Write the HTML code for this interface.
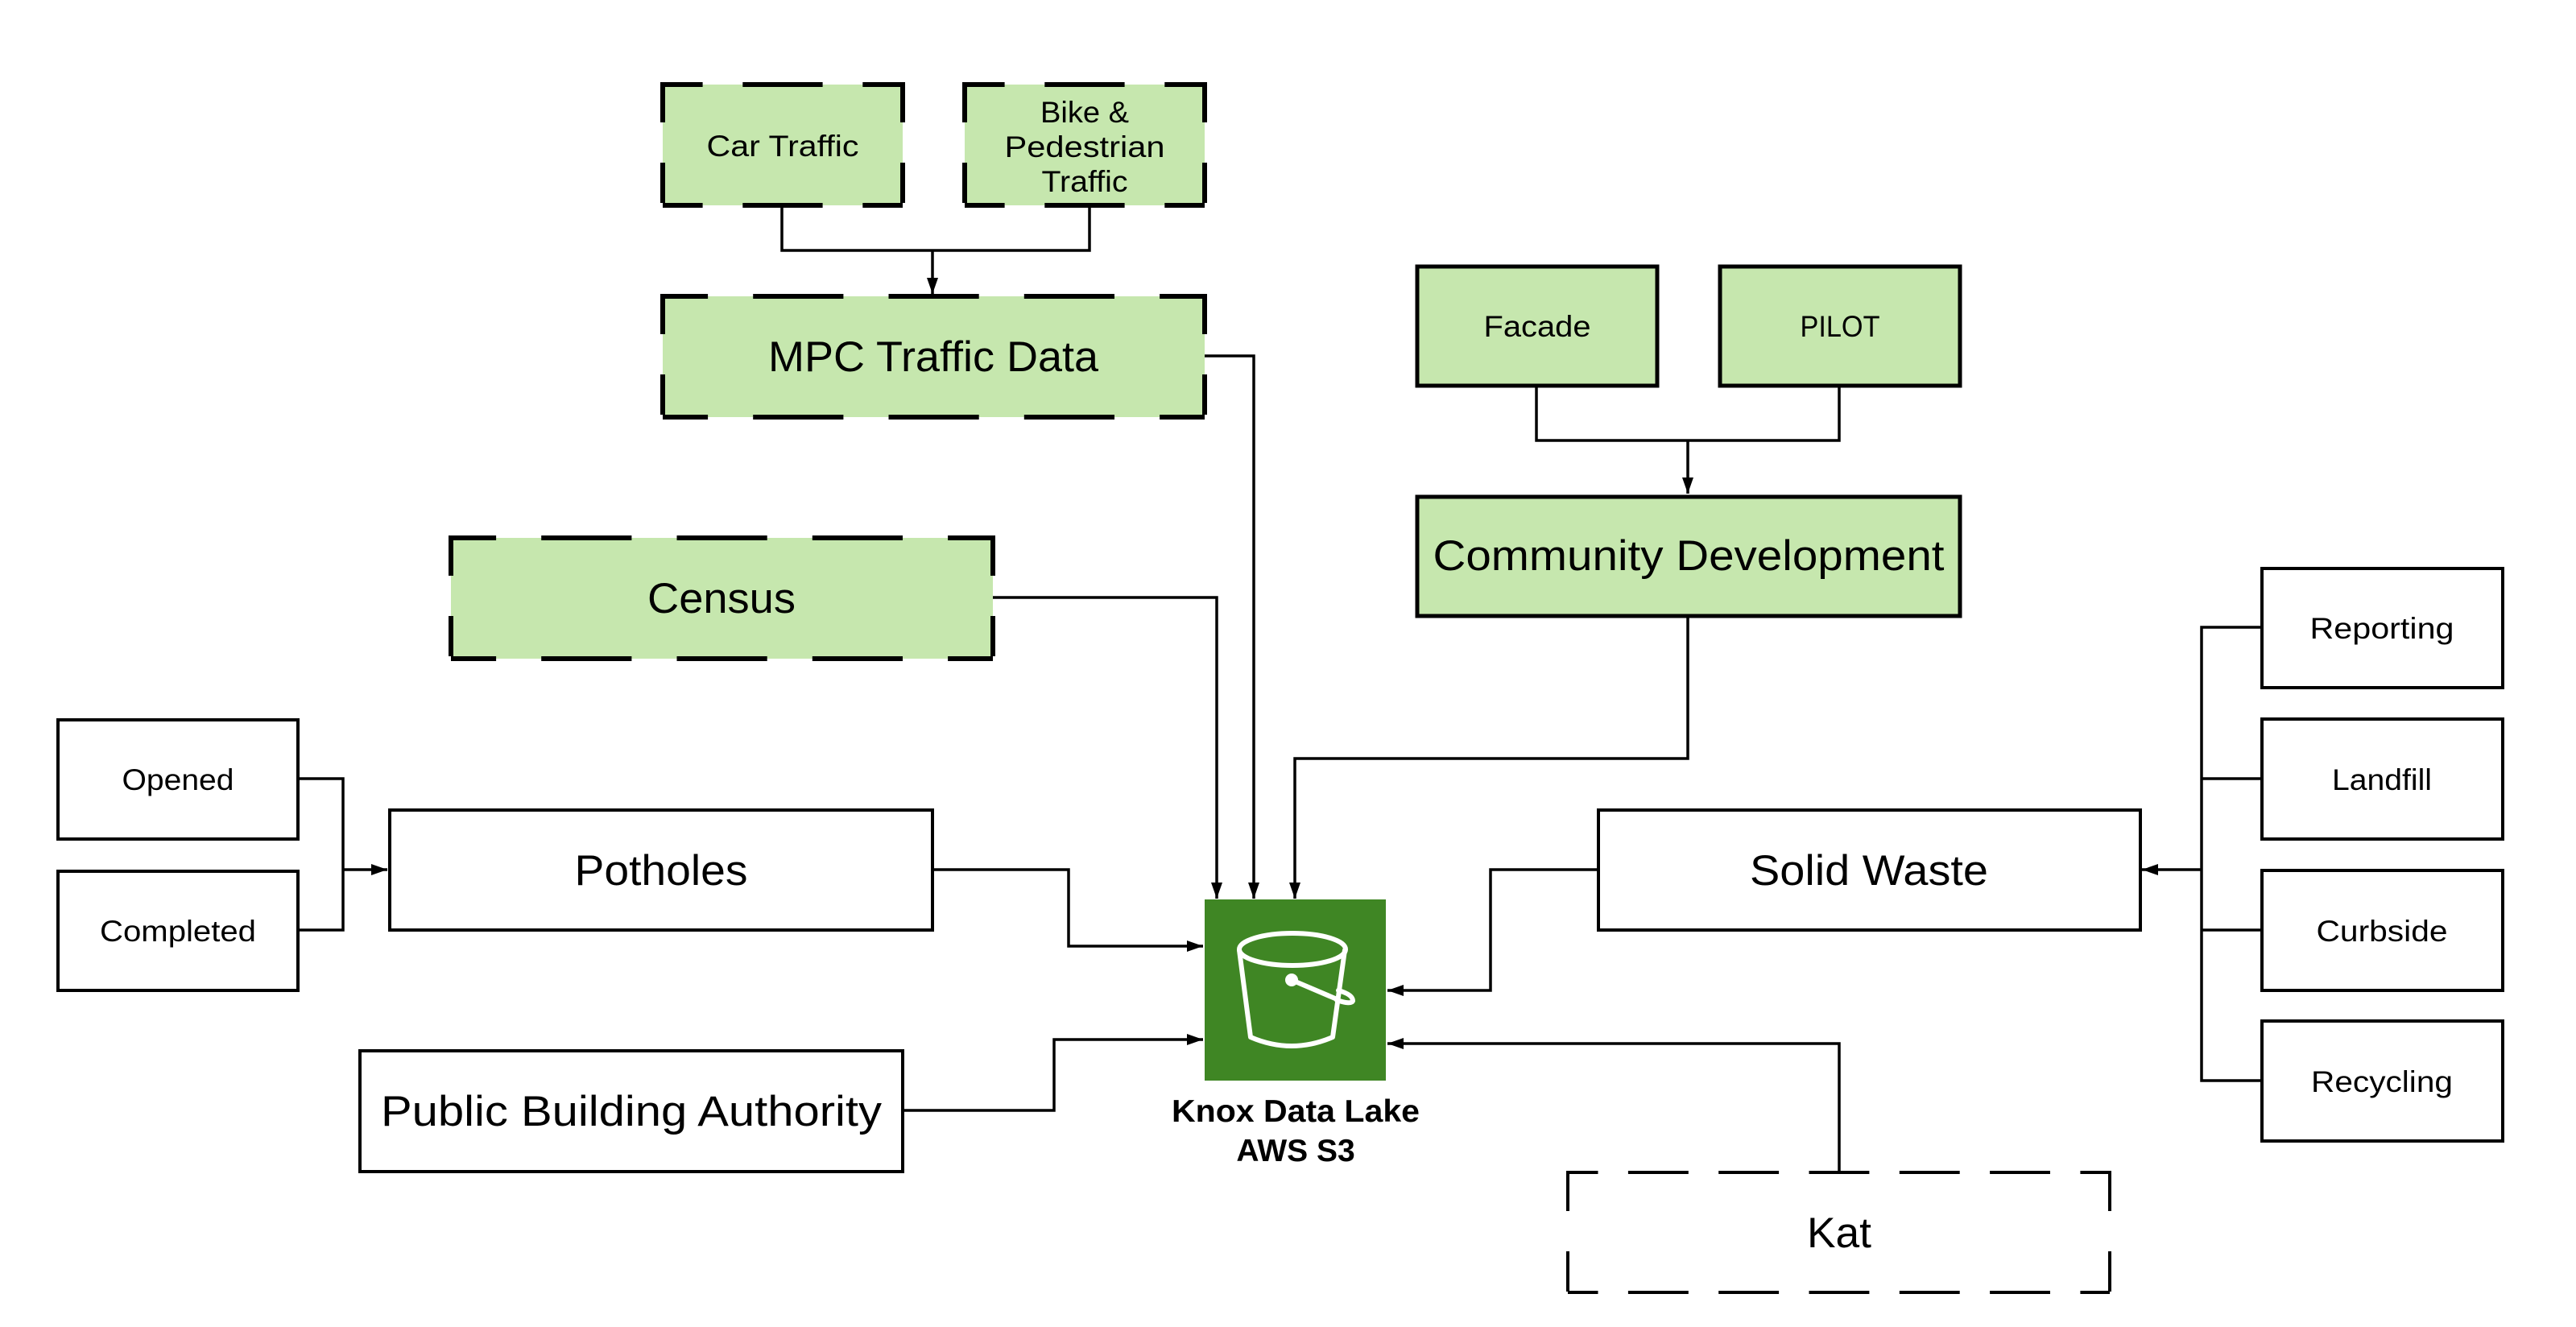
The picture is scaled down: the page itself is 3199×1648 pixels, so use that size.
<!DOCTYPE html>
<html><head><meta charset="utf-8"><style>
html,body{margin:0;padding:0;background:#fff;}
svg{display:block;}
text{font-family:"Liberation Sans",sans-serif;fill:#000;}
</style></head><body>
<svg width="3199" height="1648" viewBox="0 0 3199 1648" xmlns="http://www.w3.org/2000/svg">
<defs>
<marker id="a" viewBox="0 0 20 14" refX="20" refY="7" markerWidth="20" markerHeight="14" markerUnits="userSpaceOnUse" orient="auto">
<path d="M0,0 L20,7 L0,14 Z" fill="#000"/>
</marker>
</defs>
<g fill="none" stroke="#000" stroke-width="3.5">
<polyline points="971,256 971,311 1353,311 1353,256"/>
<line x1="1158" y1="311" x2="1158" y2="365" marker-end="url(#a)"/>
<polyline points="1908,480 1908,547 2284,547 2284,480"/>
<line x1="2096" y1="547" x2="2096" y2="613" marker-end="url(#a)"/>
<polyline points="1496,442 1557,442 1557,1116" marker-end="url(#a)"/>
<polyline points="1233,742 1511,742 1511,1116" marker-end="url(#a)"/>
<polyline points="2096,765 2096,942 1608,942 1608,1116" marker-end="url(#a)"/>
<polyline points="371,967 426,967 426,1155 371,1155"/>
<line x1="426" y1="1080" x2="481" y2="1080" marker-end="url(#a)"/>
<polyline points="1158,1080 1327,1080 1327,1175 1494,1175" marker-end="url(#a)"/>
<polyline points="1121,1379 1309,1379 1309,1291 1494,1291" marker-end="url(#a)"/>
<polyline points="1984,1080 1851,1080 1851,1230 1723,1230" marker-end="url(#a)"/>
<polyline points="2284,1455 2284,1296 1723,1296" marker-end="url(#a)"/>
<polyline points="2808,779 2734,779 2734,1342 2808,1342"/>
<line x1="2734" y1="967" x2="2808" y2="967"/>
<line x1="2734" y1="1155" x2="2808" y2="1155"/>
<line x1="2734" y1="1080" x2="2660" y2="1080" marker-end="url(#a)"/>
</g>

<g fill="#c6e7ae" stroke="#000" stroke-width="5">
<rect x="1760" y="331" width="298" height="148"/>
<rect x="2136" y="331" width="298" height="148"/>
<rect x="1760" y="617" width="674" height="148"/>
</g>
<g fill="#fff" stroke="#000" stroke-width="4">
<rect x="72" y="894" width="298" height="148"/>
<rect x="72" y="1082" width="298" height="148"/>
<rect x="484" y="1006" width="674" height="149"/>
<rect x="447" y="1305" width="674" height="150"/>
<rect x="1985" y="1006" width="673" height="149"/>
<rect x="2809" y="706" width="299" height="148"/>
<rect x="2809" y="893" width="299" height="149"/>
<rect x="2809" y="1081" width="299" height="149"/>
<rect x="2809" y="1268" width="299" height="149"/>
</g>

<g fill="#c6e7ae" stroke="none">
<rect x="823" y="105" width="298" height="150"/>
<rect x="1198" y="105" width="298" height="150"/>
<rect x="823" y="368" width="673" height="150"/>
<rect x="560" y="668" width="673" height="150"/>
</g>
<g fill="none" stroke="#000" stroke-width="6">
<g stroke-dasharray="99.3 49.7" stroke-dashoffset="49.7">
<line x1="823" y1="105" x2="1121" y2="105"/><line x1="823" y1="255" x2="1121" y2="255"/>
<line x1="1198" y1="105" x2="1496" y2="105"/><line x1="1198" y1="255" x2="1496" y2="255"/>
</g>
<g stroke-dasharray="50 50" stroke-dashoffset="0">
<line x1="823" y1="102" x2="823" y2="258"/><line x1="1121" y1="102" x2="1121" y2="258"/>
<line x1="1198" y1="102" x2="1198" y2="258"/><line x1="1496" y1="102" x2="1496" y2="258"/>
<line x1="823" y1="365" x2="823" y2="521"/><line x1="1496" y1="365" x2="1496" y2="521"/>
<line x1="560" y1="665" x2="560" y2="821"/><line x1="1233" y1="665" x2="1233" y2="821"/>
</g>
<g stroke-dasharray="112.2 56.1" stroke-dashoffset="56.1">
<line x1="823" y1="368" x2="1496" y2="368"/><line x1="823" y1="518" x2="1496" y2="518"/>
<line x1="560" y1="668" x2="1233" y2="668"/><line x1="560" y1="818" x2="1233" y2="818"/>
</g>
</g>
<g fill="none" stroke="#000" stroke-width="4">
<g stroke-dasharray="74.9 37.4" stroke-dashoffset="37.4">
<line x1="1947" y1="1456" x2="2620" y2="1456"/><line x1="1947" y1="1605" x2="2620" y2="1605"/>
</g>
<g stroke-dasharray="50 50">
<line x1="1947" y1="1454" x2="1947" y2="1607"/><line x1="2620" y1="1454" x2="2620" y2="1607"/>
</g>
</g>

<rect x="1496" y="1117" width="225" height="225" fill="#3f8624"/>
<g fill="none" stroke="#fff" stroke-width="6" stroke-linecap="round" stroke-linejoin="round">
<ellipse cx="1605" cy="1179" rx="66" ry="20"/>
<path d="M1539,1180 L1553,1288 Q1604,1310 1655,1288 L1670,1180"/>
<path d="M1604,1217 L1658,1240"/>
<path d="M1662,1230 Q1680,1235 1680,1243 Q1678,1248 1660,1242"/>
</g>
<circle cx="1604" cy="1217" r="8" fill="#fff"/>

<g text-anchor="middle">
<text x="972" y="194" font-size="37" textLength="189" lengthAdjust="spacingAndGlyphs">Car Traffic</text>
<text x="1347" y="152" font-size="37" textLength="110" lengthAdjust="spacingAndGlyphs">Bike &amp;</text>
<text x="1347" y="195" font-size="37" textLength="199" lengthAdjust="spacingAndGlyphs">Pedestrian</text>
<text x="1347" y="238" font-size="37" textLength="107" lengthAdjust="spacingAndGlyphs">Traffic</text>
<text x="1159" y="461" font-size="53" textLength="410" lengthAdjust="spacingAndGlyphs">MPC Traffic Data</text>
<text x="896" y="761" font-size="53" textLength="184" lengthAdjust="spacingAndGlyphs">Census</text>
<text x="1909" y="418" font-size="37" textLength="133" lengthAdjust="spacingAndGlyphs">Facade</text>
<text x="2285" y="418" font-size="37" textLength="99" lengthAdjust="spacingAndGlyphs">PILOT</text>
<text x="2097" y="708" font-size="53" textLength="635" lengthAdjust="spacingAndGlyphs">Community Development</text>
<text x="221" y="981" font-size="37" textLength="139" lengthAdjust="spacingAndGlyphs">Opened</text>
<text x="221" y="1169" font-size="37" textLength="194" lengthAdjust="spacingAndGlyphs">Completed</text>
<text x="821" y="1099" font-size="53" textLength="215" lengthAdjust="spacingAndGlyphs">Potholes</text>
<text x="784" y="1398" font-size="53" textLength="622" lengthAdjust="spacingAndGlyphs">Public Building Authority</text>
<text x="2321" y="1099" font-size="53" textLength="296" lengthAdjust="spacingAndGlyphs">Solid Waste</text>
<text x="2284" y="1549" font-size="53" textLength="80" lengthAdjust="spacingAndGlyphs">Kat</text>
<text x="2958" y="793" font-size="37" textLength="179" lengthAdjust="spacingAndGlyphs">Reporting</text>
<text x="2958" y="981" font-size="37" textLength="124" lengthAdjust="spacingAndGlyphs">Landfill</text>
<text x="2958" y="1169" font-size="37" textLength="163" lengthAdjust="spacingAndGlyphs">Curbside</text>
<text x="2958" y="1356" font-size="37" textLength="176" lengthAdjust="spacingAndGlyphs">Recycling</text>
<text x="1609" y="1393" font-size="39" font-weight="bold" textLength="308" lengthAdjust="spacingAndGlyphs">Knox Data Lake</text>
<text x="1609" y="1442" font-size="39" font-weight="bold">AWS S3</text>
</g>
</svg>
</body></html>
